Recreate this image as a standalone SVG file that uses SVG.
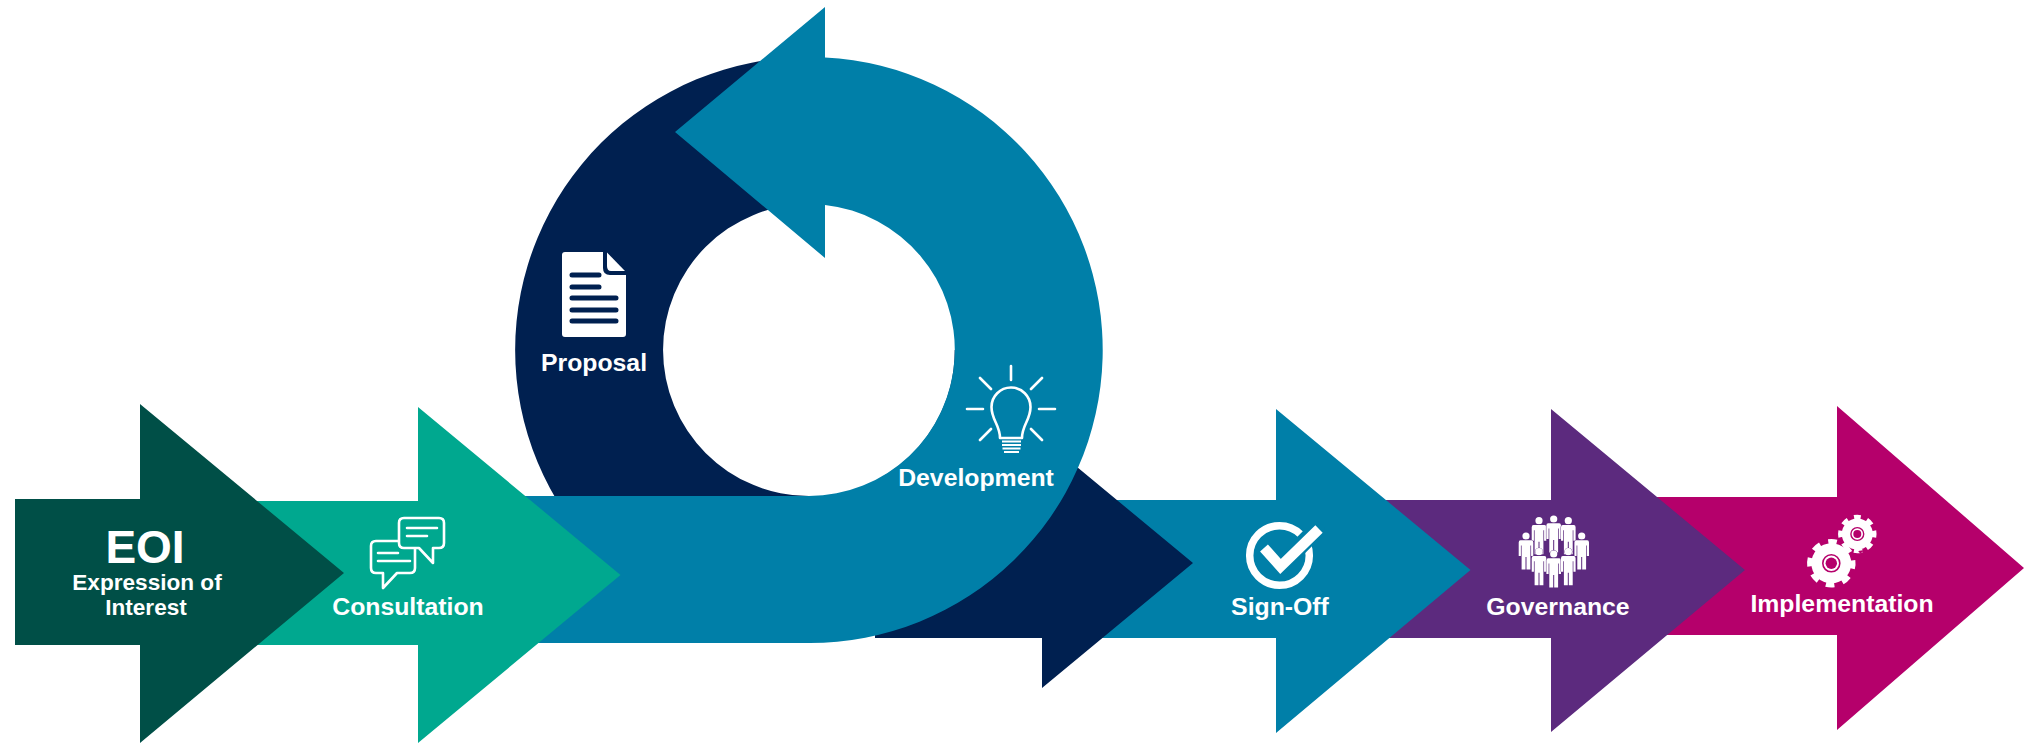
<svg xmlns="http://www.w3.org/2000/svg" width="2024" height="744" viewBox="0 0 2024 744">
<style>
.t{font-family:"Liberation Sans",Arial,sans-serif;font-weight:700;fill:#fff;text-anchor:middle;font-size:24.8px}
.s{font-size:22.6px}
.ln{fill:none;stroke:#fff;stroke-width:2.6;stroke-linecap:round;stroke-linejoin:round}
.dl{stroke:#002050;stroke-width:5;stroke-linecap:round;fill:none}
.p{fill:#fff;stroke:#5C2A7E;stroke-width:.8;paint-order:stroke}
</style>
<defs>
<g id="person"><circle r="3.6"/><path d="M-5.5 4.300H5.500Q7.300 4.300 7.300 6.500V20H5.100V9.500H4.400V33.500H.5V21H-.5V33.500H-4.400V9.500H-5.100V20H-7.300V6.500Q-7.300 4.300-5.500 4.300Z"/></g>
</defs>
<rect width="2024" height="744" fill="#fff"/>

<g id="implementation">
<path d="M1650 497H1837V406L2024 568L1837 730V635H1650Z" fill="#B5006B"/>
<g fill="#fff">
<circle cx="1831.3" cy="563.3" r="20"/>
<circle cx="1831.3" cy="563.3" r="21.5" fill="none" stroke="#fff" stroke-width="5.5" pathLength="80" stroke-dasharray="5 5" transform="rotate(-8 1831.3 563.3)"/>
<circle cx="1857.3" cy="534" r="15.5"/>
<circle cx="1857.3" cy="534" r="17" fill="none" stroke="#fff" stroke-width="4.5" pathLength="80" stroke-dasharray="5 5" transform="rotate(-101 1857.3 534)"/>
</g>
<circle cx="1831.3" cy="563.3" r="8.5" fill="none" stroke="#B5006B" stroke-width="1.6"/>
<circle cx="1831.3" cy="563.3" r="5.7" fill="#B5006B"/>
<circle cx="1857.3" cy="534" r="6.4" fill="none" stroke="#B5006B" stroke-width="1.4"/>
<circle cx="1857.3" cy="534" r="4" fill="#B5006B"/>
<text class="t" x="1842" y="612">Implementation</text>
</g>

<g id="governance">
<path d="M1380 500H1551V409L1745 570L1551 732V638H1380Z" fill="#5C2A7E"/>
<use href="#person" x="1539" y="520.7" class="p"/>
<use href="#person" x="1553.7" y="519" class="p"/>
<use href="#person" x="1568.3" y="520.7" class="p"/>
<use href="#person" x="1526" y="536" class="p"/>
<use href="#person" x="1581.7" y="536" class="p"/>
<use href="#person" x="1539" y="551.7" class="p"/>
<use href="#person" x="1553.7" y="554" class="p"/>
<use href="#person" x="1568.3" y="551.7" class="p"/>
<text class="t" x="1558" y="615">Governance</text>
</g>

<g id="sign-off">
<path d="M1050 500H1276V409L1470.500 570L1276 733V638H1050Z" fill="#007FA8"/>
<circle cx="1279.500" cy="555.500" r="29.800" fill="none" stroke="#fff" stroke-width="7.500"/>
<path d="M1265 549L1280.500 566L1316 530" fill="none" stroke="#007FA8" stroke-width="17" stroke-linecap="round"/>
<path d="M1264 548L1280.500 566.500L1319 529" fill="none" stroke="#fff" stroke-width="10.500"/>
<text class="t" x="1280" y="615">Sign-Off</text>
</g>

<g id="proposal">
<path fill="#002050" d="M809 57A294 293 0 0 0 809 643V496A146 146 0 0 1 809 204Z"/>
<path d="M875 500H1042V438L1193 563L1042 688V638H875Z" fill="#002050"/>
<path d="M955.600 350A147 147 0 0 1 882 478" fill="none" stroke="#002050" stroke-width="1.800"/>
<path fill="#fff" d="M565 252H603V268Q603 275 610 275H626V334Q626 337 623 337H565Q562 337 562 334V255Q562 252 565 252Z"/>
<path fill="#fff" d="M607 252.500L625 271H611Q607 271 607 266Z"/>
<path class="dl" d="M572 275H599M572 287H599M572 298H616M572 310H616M572 321H616"/>
<text class="t" x="594" y="371">Proposal</text>
</g>

<g id="development">
<path fill="#007FA8" d="M520 496H809A146 146 0 0 0 825 204.900V258L675 132L825 7V57.400A293 293 0 0 1 809 643H520Z"/>
<path class="ln" d="M1011 366V380M980 378L991 389M1042 378L1031 389M967 409H983M1039 409H1055M980 440L991 429M1042 440L1031 429"/>
<path class="ln" d="M1000 438C1000 425 991.500 420 991.500 407A19.500 19.500 0 0 1 1030.500 407C1030.500 420 1022 425 1022 438Z"/>
<path d="M1002 441.500H1021M1002 445H1021M1002.500 448.500H1020.500M1004 452H1019" fill="none" stroke="#fff" stroke-width="2"/>
<text class="t" x="976" y="486">Development</text>
</g>

<g id="consultation">
<path d="M250 501H418V407L620.500 575L418 743V645H250Z" fill="#00A88F"/>
<path class="ln" d="M376 541H410Q415 541 415 546V568Q415 573 410 573H397L383 588V573H376Q371 573 371 568V546Q371 541 376 541Z"/>
<path class="ln" d="M378 553H398M378 561H410"/>
<path class="ln" style="fill:#00A88F" d="M404 518H439Q444 518 444 523V543Q444 548 439 548H433V563L419 548H404Q399 548 399 543V523Q399 518 404 518Z"/>
<path class="ln" d="M407 528H437M407 536H427"/>
<text class="t" x="408" y="615">Consultation</text>
</g>

<g id="eoi">
<path d="M15 499H140V404L344 573L140 743V645H15Z" fill="#004F47"/>
<text class="t" x="145" y="563" style="font-size:46px">EOI</text>
<text class="t s" x="147" y="590">Expression of</text>
<text class="t s" x="146" y="615">Interest</text>
</g>

<g id="connectors"/>
</svg>
